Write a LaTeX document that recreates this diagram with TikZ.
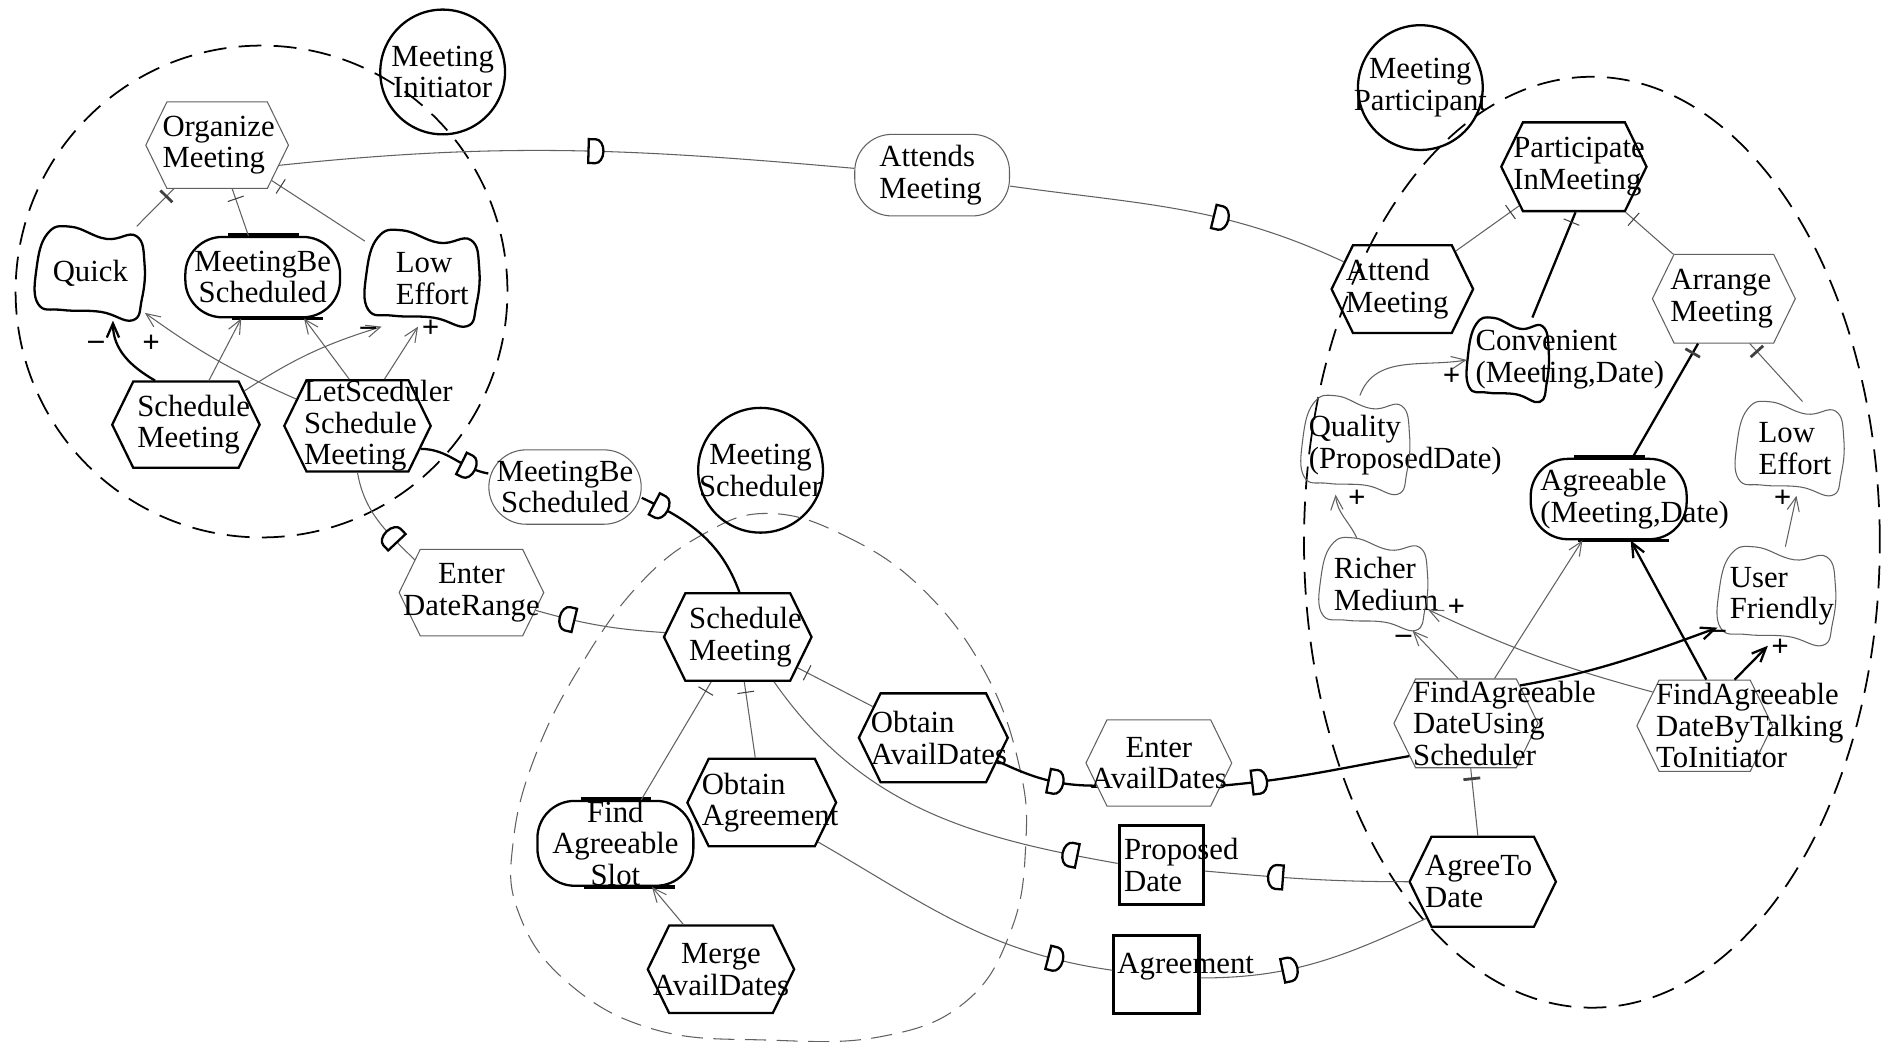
\documentclass[tikz,border=0pt]{standalone}
\usepackage{fontspec}
\setmainfont{Liberation Serif}
\usetikzlibrary{shapes.symbols, arrows.meta, decorations.markings}
\newlength{\ux}
\setlength{\ux}{0.024cm}
\hyphenpenalty=10000
\exhyphenpenalty=10000
\tikzset{
  heavy/.style={draw=black, line width=1.3pt},
  faint/.style={draw=black!62, line width=0.6pt},
  actor/.style={circle, heavy, inner sep=0pt, minimum size=104\ux, align=center},
  task/.style={signal, signal to=east and west, signal pointer angle=128, heavy, inner ysep=0pt, align=left},
  goal/.style={rectangle, heavy, rounded corners=31\ux, inner sep=0pt, align=left},
  soft/.style={rectangle, inner sep=0pt, align=left},
  res/.style={rectangle, draw=black, line width=1.8pt, inner sep=0pt, align=left},
  bound/.style={draw=black, line width=1pt, dash pattern=on 13pt off 7pt},
  sign/.style={font=\fontsize{17.5}{18}\selectfont\bfseries, inner sep=0pt},
  contrib/.style={-{Straight Barb[length=8pt,width=7pt]}},
  decomp/.style={postaction={decorate, decoration={markings,
      mark=at position -6pt with {\draw[black!75, line width=#1] (0pt,-4.8pt) -- (0pt,4.8pt);}}}},
  decomp/.default=0.6pt,
  dep/.style={postaction={decorate, decoration={markings,
      mark=at position #1 with {\draw[black, line width=1.3pt, fill=white]
        (-4pt,-6.8pt) -- (-4pt,6.8pt) -- (0pt,6.8pt)
        arc[start angle=90, end angle=-90, x radius=4.5pt, y radius=6.8pt] -- cycle;}}}},
  dep/.default=0.5
}

\begin{document}
\begin{tikzpicture}[x=\ux, y=\ux, every node/.style={font=\fontsize{17.5}{18}\selectfont}]
\useasboundingbox (0,0) rectangle (1568,-868);

% actor boundaries
\draw[bound] (218,-243) circle[radius=205];
\draw[bound] (1327,-452) ellipse[x radius=240, y radius=388];
\draw[faint, dash pattern=on 12pt off 6pt] plot[smooth cycle, tension=0.7] coordinates {
  (640,-428) (705,-447) (770,-492) (822,-562) (850,-640) (855,-705) (843,-775)
  (805,-835) (735,-864) (640,-867) (545,-858) (472,-818) (432,-760) (428,-700)
  (447,-628) (484,-555) (532,-488) (585,-446)};

% actors
\node[actor] (mi) at (369,-60) {\makebox[0pt]{Meeting}\\\makebox[0pt]{Initiator}};
\node[actor] (mp) at (1184,-73) {\makebox[0pt]{Meeting}\\\makebox[0pt]{Participant}};
\node[actor] (ms) at (634,-392) {\makebox[0pt]{Meeting}\\\makebox[0pt]{Scheduler}};

% initiator
\node[task, faint, minimum height=72\ux, text width=91\ux, inner xsep=-3.6\ux] (organize) at (181,-121) {Organize\\Meeting};
\node[soft, minimum width=91\ux, minimum height=78\ux, text width=62\ux] (quick) at (75,-228) {Quick};
\node[goal, minimum width=129\ux, minimum height=67\ux, text width=122\ux, align=center] (mbs) at (219,-231) {MeetingBe\\Scheduled};
\node[soft, minimum width=95\ux, minimum height=80\ux, text width=44\ux] (lowa) at (352,-232) {Low\\Effort};
\node[task, minimum height=72\ux, text width=81\ux, inner xsep=3.4\ux] (schedi) at (155,-354) {Schedule\\Meeting};
\node[task, minimum height=74\ux, text width=89\ux, inner xsep=-2\ux] (letsched) at (298,-355) {LetSceduler\\Schedule\\Meeting};

% participant
\node[task, minimum height=74\ux, text width=101\ux, inner xsep=-8\ux] (partic) at (1312,-139) {Participate\\InMeeting};
\node[task, minimum height=73\ux, text width=94\ux, inner xsep=-5.8\ux] (attend) at (1169,-241) {Attend\\Meeting};
\node[task, faint, minimum height=74\ux, text width=89\ux, inner xsep=-3\ux] (arrange) at (1437,-249) {Arrange\\Meeting};
\node[soft, minimum width=68\ux, minimum height=70\ux, text width=54\ux] (conv) at (1257,-300) {Convenient\\(Meeting,Date)};
\node[soft, minimum width=90\ux, minimum height=82\ux, text width=78\ux] (quality) at (1130,-371) {Quality\\(ProposedDate)};
\node[soft, minimum width=90\ux, minimum height=78\ux, text width=52\ux] (lowb) at (1492,-374) {Low\\Effort};
\node[goal, minimum width=130\ux, minimum height=67\ux, text width=114\ux] (agreeable) at (1341,-416) {Agreeable\\(Meeting,Date)};
\node[soft, minimum width=90\ux, minimum height=77\ux, text width=66\ux] (richer) at (1145,-487) {Richer\\Medium};
\node[soft, minimum width=98\ux, minimum height=82\ux, text width=78\ux] (friendly) at (1481,-497) {User\\Friendly};
\node[task, faint, minimum height=74\ux, text width=88\ux, inner xsep=-2\ux] (usesched) at (1222,-603) {FindAgreeable\\DateUsing\\Scheduler};
\node[task, faint, minimum height=76\ux, text width=81\ux, inner xsep=-2.5\ux] (talkinit) at (1421,-605) {FindAgreeable\\DateByTalking\\ToInitiator};
\node[task, minimum height=75\ux, text width=96\ux, inner xsep=-5.3\ux] (agreeto) at (1236,-735) {AgreeTo\\Date};

% scheduler
\node[task, minimum height=73\ux, text width=81\ux, inner xsep=3.2\ux] (schedm) at (615,-531) {Schedule\\Meeting};
\node[task, minimum height=74\ux, text width=104\ux, inner xsep=-8\ux] (obtavail) at (778,-615) {Obtain\\AvailDates};
\node[task, minimum height=73\ux, text width=100\ux, inner xsep=-5.8\ux] (obtagree) at (635,-669) {Obtain\\Agreement};
\node[goal, minimum width=130\ux, minimum height=70\ux, text width=114\ux, align=center] (findslot) at (513,-703) {Find\\Agreeable\\Slot};
\node[task, minimum height=73\ux, text width=118\ux, inner xsep=-15.8\ux, align=center] (merge) at (601,-808) {Merge\\AvailDates};

% dependums
\node[goal, faint, minimum width=129\ux, minimum height=68\ux, text width=88\ux] (attends) at (777,-146) {Attends\\Meeting};
\node[goal, faint, minimum width=127\ux, minimum height=62\ux, text width=116\ux, align=center] (mbsdep) at (471,-406) {MeetingBe\\Scheduled};
\node[task, faint, minimum height=72\ux, text width=116\ux, inner xsep=-15.3\ux, align=center] (daterange) at (393,-494) {Enter\\DateRange};
\node[task, faint, minimum height=72\ux, text width=120\ux, inner xsep=-16.8\ux, align=center] (availdates) at (966,-636) {Enter\\AvailDates};
\node[res, minimum width=70\ux, minimum height=66\ux, text width=62\ux] (propdate) at (968,-721) {Proposed\\Date};
\node[res, minimum width=71\ux, minimum height=65\ux, text width=65\ux] (agreement) at (964,-812) {Agreement\\[-6pt]\mbox{}};

% softgoal outlines
\foreach \n/\w/\h in {quick/91/78, lowa/95/80, conv/68/70}
  \draw[heavy, shift={(\n.center)}, x={0.5*\w*\ux}, y={0.5*\h*\ux}] plot[smooth cycle, tension=0.75] coordinates {
    (-0.78,0.85) (-0.35,1) (0.3,0.74) (0.85,0.8) (1,0.2) (0.95,-0.55) (0.78,-1)
    (0.2,-0.82) (-0.5,-0.78) (-0.95,-0.65) (-0.98,0.1)};
\foreach \n/\w/\h in {quality/90/82, lowb/90/78, richer/90/77, friendly/98/82}
  \draw[faint, shift={(\n.center)}, x={0.5*\w*\ux}, y={0.5*\h*\ux}] plot[smooth cycle, tension=0.75] coordinates {
    (-0.78,0.85) (-0.35,1) (0.3,0.74) (0.85,0.8) (1,0.2) (0.95,-0.55) (0.78,-1)
    (0.2,-0.82) (-0.5,-0.78) (-0.95,-0.65) (-0.98,0.1)};

% goal bars
\foreach \n in {mbs, agreeable, findslot} {
  \draw[line width=2.6pt] ([xshift=-29\ux]\n.north) -- ([xshift=30\ux]\n.north);
  \draw[line width=2pt] ([xshift=-26\ux]\n.south) -- ([xshift=50\ux]\n.south);
}

% initiator links
\draw[faint, decomp=1.6pt] (quick) -- (organize);
\draw[faint, decomp] (mbs) -- (organize);
\draw[faint, decomp] (lowa) -- (organize);
\draw[heavy, contrib] (schedi.125) to[out=150,in=-90] (quick.-64);
\draw[faint, contrib] (letsched) to[bend left=6] (quick);
\draw[faint, contrib] (schedi) -- (mbs);
\draw[faint, contrib] (letsched.100) -- (mbs.-45);
\draw[faint, contrib] (schedi.30) to[bend left=8] (lowa.-130);
\draw[faint, contrib] (letsched.60) -- (lowa.-95);

% dependencies
\draw[faint, dep=0.55] (organize.-18) to[out=6,in=175] (attends);
\draw[faint, dep=0.62] (attends) to[out=-8,in=155] (attend);
\draw[heavy, dep=0.7] (letsched.-20) to[out=0,in=170] (mbsdep);
\draw[heavy, dep=0.15] (mbsdep.-8) to[out=-25,in=110] (schedm.88);
\draw[faint, dep=0.75] (schedm) to[bend left=6] (daterange);
\draw[faint, dep=0.3] (daterange.150) to[out=135,in=-80] (letsched.-90);
\draw[heavy, dep=0.6] (obtavail.-20) to[out=-25,in=180] (availdates.-160);
\draw[heavy, dep=0.2] (availdates.-20) to[out=5,in=190] (usesched.-150);
\draw[faint, dep=0.65] (agreeto.west) to[out=180,in=-5] (propdate.-8);
\draw[faint, dep=0.12] (propdate.178) to[out=170,in=-55] (schedm.-51);
\draw[faint, dep=0.82] (obtagree.-35) to[out=-30,in=172] (agreement.175);
\draw[faint, dep=0.38] (agreement.-5) to[out=0,in=205] (agreeto.-147);

% participant links
\draw[faint, decomp] (attend) -- (partic);
\draw[heavy, decomp] (conv.60) -- (partic.-88);
\draw[faint, decomp] (arrange) -- (partic);
\draw[heavy, decomp=1.6pt] (agreeable) -- (arrange);
\draw[faint, decomp=1.6pt] (lowb.75) -- (arrange.-60);
\draw[faint, contrib] (quality.85) to[out=70,in=190] (conv.west);
\draw[faint, contrib] (richer.110) to[out=115,in=-85] (quality.-112);
\draw[faint, contrib] (usesched.100) -- (richer.-50);
\draw[faint, contrib] (talkinit.147) to[bend left=5] (richer.-25);
\draw[faint, contrib] (usesched) -- (agreeable);
\draw[heavy, contrib] (talkinit.88) -- (agreeable.-62);
\draw[heavy, contrib] (usesched.35) to[out=10,in=200] (friendly.-152);
\draw[heavy, contrib] (talkinit.57) -- (friendly.-100);
\draw[faint, contrib] (friendly.80) -- (lowb.-82);
\draw[faint, decomp=1.6pt] (agreeto) -- (usesched);

% scheduler links
\draw[faint, decomp] (findslot) -- (schedm);
\draw[faint, decomp] (obtagree) -- (schedm);
\draw[faint, decomp] (obtavail) -- (schedm);
\draw[faint, contrib] (merge) -- (findslot);

% contribution signs
\node[sign] (sq1) at (80,-288) {--};
\node[sign] (sq2) at (126,-287) {+};
\node[sign] (sl1) at (307,-276) {--};
\node[sign] (sl2) at (359,-274) {+};
\node[sign] (sc1) at (1210,-314) {+};
\node[sign] (sp1) at (1131,-416) {+};
\node[sign] (sr1) at (1170,-533) {--};
\node[sign] (sr2) at (1214,-507) {+};
\node[sign] (su1) at (1432,-529) {--};
\node[sign] (su2) at (1484,-540) {+};
\node[sign] (se1) at (1486,-416) {+};
\end{tikzpicture}
\end{document}
